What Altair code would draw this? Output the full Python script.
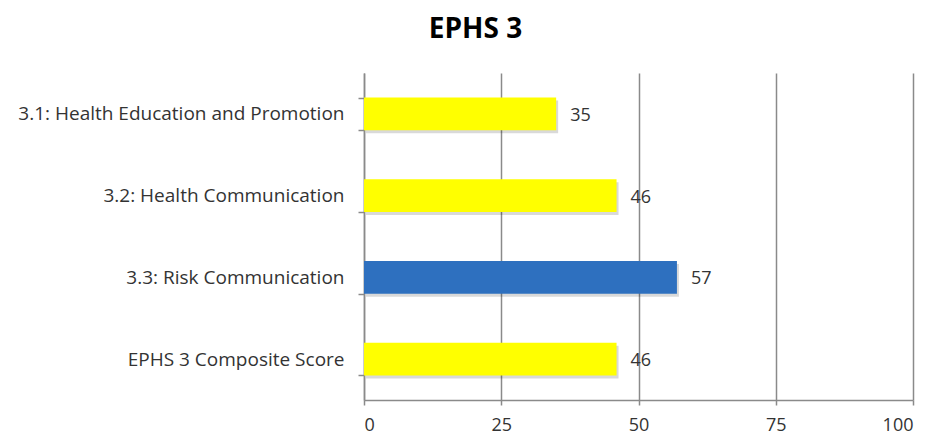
import altair as alt
import pandas as pd

categories = ["3.1: Health Education and Promotion", "3.2: Health Communication ",
              "3.3: Risk Communication", "EPHS 3 Composite Score"]
values = [35, 46, 57, 46]
colors = ["#FFFF00", "#FFFF00", "#2E70BF", "#FFFF00"]
x_ticks = [0, 25, 50, 75, 100]

df = pd.DataFrame({"cat": categories, "val": values, "col": colors})

FONT = "Open Sans"
y_enc = alt.Y("cat:N", sort=categories, title=None,
              scale=alt.Scale(paddingInner=0.6, paddingOuter=0.3),
              axis=alt.Axis(tickBand="extent", labelFont=FONT, labelFontSize=19,
                            labelColor="#333333", labelLimit=400, labelPadding=14,
                            domainColor="#8A8A8A", domainWidth=1.5, tickColor="#8A8A8A",
                            tickWidth=1.5, tickSize=6, grid=False))
x_enc = alt.X("val:Q", title=None,
              scale=alt.Scale(domain=[0, 100], nice=False),
              axis=alt.Axis(values=x_ticks, labelFont=FONT, labelFontSize=18,
                            labelColor="#333333", labelPadding=11,
                            domainColor="#8A8A8A", domainWidth=1.5, tickColor="#8A8A8A",
                            tickWidth=1.5, tickSize=5, grid=True, gridColor="#8A8A8A",
                            gridWidth=1.5))

shadow = alt.Chart(df).mark_bar(color="#000000", opacity=0.15, xOffset=2, yOffset=3).encode(
    x=x_enc, y=y_enc)
bars = alt.Chart(df).mark_bar().encode(
    x=x_enc, y=y_enc, color=alt.Color("col:N", scale=None))
labels = alt.Chart(df).mark_text(align="left", baseline="middle", dx=14, dy=2,
                                 font=FONT, fontSize=18, color="#333333").encode(
    x="val:Q", y=alt.Y("cat:N", sort=categories), text="val:Q")

chart = alt.layer(shadow, bars, labels).properties(
    width=549, height=327,
    title=alt.TitleParams("EPHS 3", font=FONT, fontSize=28, fontWeight="bold",
                          color="#000000", anchor="middle", dx=-163, offset=20),
    autosize=alt.AutoSizeParams(type="none"),
    padding={"left": 356, "top": 65, "right": 10, "bottom": 38},
).configure_view(stroke=None)

chart.save("out.html", embed_options={"renderer": "svg", "actions": False})
